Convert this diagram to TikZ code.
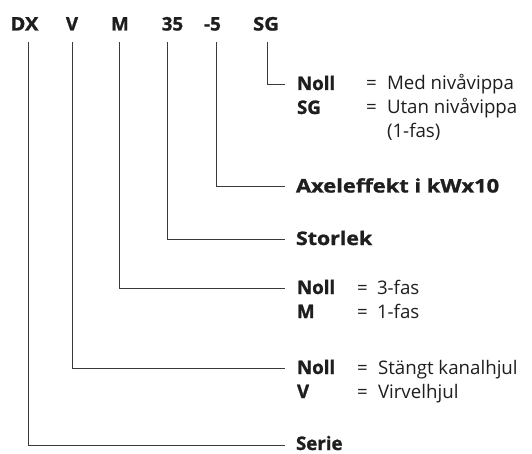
\documentclass[tikz,border=0pt]{standalone}
\usepackage{fontspec}
\setmainfont{Open Sans}[BoldFeatures={FakeBold=1.2}]
\begin{document}
\begin{tikzpicture}[x=1pt,y=-1pt,
  every node/.style={inner sep=0pt, outer sep=0pt, text=txt, font=\fontsize{18.7}{24}\selectfont},
  hdr/.style={anchor=base, font=\fontsize{18.7}{24}\selectfont\bfseries},
  key/.style={anchor=base west, font=\fontsize{18.7}{24}\selectfont\bfseries},
  val/.style={anchor=base west},
  conn/.style={draw=lin, line width=0.9pt}]
\definecolor{txt}{HTML}{1E1E1E}
\definecolor{lin}{HTML}{3A3A3A}
\useasboundingbox (0,0) rectangle (532,454);
% header
\node[hdr] (hDX) at (24.5,30.5) {\scalebox{1.08}[1]{DX}};
\node[hdr] (hV)  at (72,30.5) {V};
\node[hdr] (hM)  at (120,30.5) {M};
\node[hdr] (h35) at (172.5,30.5) {35};
\node[hdr] (h5)  at (212.5,30.5) {-5};
\node[hdr] (hSG) at (266,30.5) {\scalebox{1.08}[1]{SG}};
% line tops
\coordinate (tDX) at (28,42);
\coordinate (tV)  at (72,42);
\coordinate (tM)  at (119,42);
\coordinate (t35) at (167,42);
\coordinate (t5)  at (216,42);
\coordinate (tSG) at (267,42);
% line ends
\coordinate (eSG) at (285,84);
\coordinate (e5)  at (285,186);
\coordinate (e35) at (285,239);
\coordinate (eM)  at (285,288);
\coordinate (eV)  at (285,368);
\coordinate (eDX) at (285,445);
% SG group
\node[key] (kSG1) at (297,90) {Noll};
\node[val] (qSG1) at (366,90) {=};
\node[val] (vSG1) at (387,90) {Med nivåvippa};
\node[key] (kSG2) at (297,114) {SG};
\node[val] (qSG2) at (366,114) {=};
\node[val] (vSG2) at (387,114) {Utan nivåvippa};
\node[val] (vSG3) at (387,138) {(1-fas)};
% -5
\node[key] (k5) at (296,192.5) {\scalebox{1.17}[1]{Axeleffekt i kWx10}};
% 35
\node[key] (k35) at (296,245) {\scalebox{1.14}[1]{Storlek}};
% M group
\node[key] (kM1) at (297,294) {Noll};
\node[val] (qM1) at (357,294) {=};
\node[val] (vM1) at (377,294) {3-fas};
\node[key] (kM2) at (297,318) {M};
\node[val] (qM2) at (357,318) {=};
\node[val] (vM2) at (377,318) {1-fas};
% V group
\node[key] (kV1) at (297,374) {Noll};
\node[val] (qV1) at (357,374) {=};
\node[val] (vV1) at (378,374) {Stängt kanalhjul};
\node[key] (kV2) at (297,398) {V};
\node[val] (qV2) at (357,398) {=};
\node[val] (vV2) at (378,398) {Virvelhjul};
% DX
\node[key] (kDX) at (296,450) {Serie};
% connectors
\draw[conn] (tSG) |- (eSG);
\draw[conn] (t5) |- (e5);
\draw[conn] (t35) |- (e35);
\draw[conn] (tM) |- (eM);
\draw[conn] (tV) |- (eV);
\draw[conn] (tDX) |- (eDX);
\end{tikzpicture}
\end{document}
